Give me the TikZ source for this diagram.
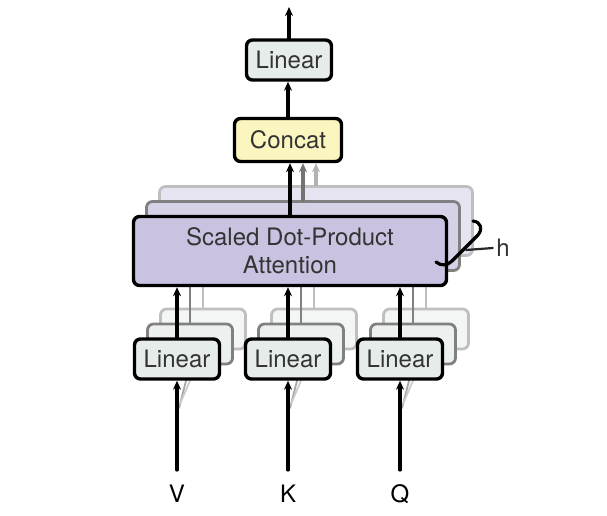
\documentclass[tikz,border=0pt]{standalone}
\usepackage{fontspec}
\setmainfont{TeX Gyre Heros}
\usetikzlibrary{positioning,arrows.meta}
\definecolor{linfill}{HTML}{E6ECEA}
\definecolor{catfill}{HTML}{FBF6C0}
\definecolor{attfill}{HTML}{C9C2E0}
\begin{document}
\begin{tikzpicture}[x=1pt,y=-1pt,line join=round,line cap=round,>={Stealth[length=9pt,width=8pt]},
  font=\fontsize{24}{28}\selectfont,
  box/.style={draw,line width=3.4pt,rounded corners=6pt,inner sep=0pt,text=black!80},
  linbox/.style={box,fill=linfill,minimum width=85pt,minimum height=40pt},
  catbox/.style={box,fill=catfill,minimum width=107pt,minimum height=43pt},
  attbox/.style={box,fill=attfill,minimum width=313pt,minimum height=69pt,align=center},
  back/.style={draw=black!50,fill=#1!75,line width=2.8pt},
  far/.style={draw=black!25,fill=#1!45,line width=2.8pt},
  flow/.style={->,line width=3.2pt},
  faint/.style={line width=2.6pt,#1}]
  \useasboundingbox (0,0) rectangle (607,516);
  % output side
  \node[linbox] (out) at (289,60) {Linear};
  \node[catbox] (cat) at (288,140) {Concat};
  \coordinate (top) at (289,7);
  \draw[flow] (out.north) -- (top);
  \draw[flow] (cat.north) -- (cat.north |- out.south);
  % attention heads
  \node[attbox,far=attfill] (att3) at (316,221) {};
  \node[attbox,back=attfill] (att2) at (303,236) {};
  \draw[flow,black!30] (att3.north) -- (att3.north |- cat.south);
  \draw[flow,black!55] (att2.north) -- (att2.north |- cat.south);
  \coordinate (attbot) at (290,286);
  % projections of V, K, Q
  \foreach \name/\x in {V/177,K/288,Q/400}{
    \node[linbox,far=linfill] (lin\name3) at (\x+26,329) {};
    \node[linbox,back=linfill] (lin\name2) at (\x+13,344) {};
    \draw[faint=black!25] (lin\name3.north) -- (lin\name3.north |- attbot);
    \draw[faint=black!50] (lin\name2.north) -- (lin\name2.north |- attbot);
    \draw[black!35,line width=1.8pt] (\x+2,408) -- (lin\name2.south);
    \draw[black!20,line width=1.8pt] (\x+3,404) -- (lin\name3.south);
    \node[linbox] (lin\name) at (\x,359) {Linear};
    \coordinate (in\name) at (\x,470);
    \node (lab\name) at (\x,494) {\name};
    \draw[flow] (in\name) -- (lin\name.south);
  }
  \node[attbox] (att) at (290,251) {Scaled Dot-Product\\Attention};
  \foreach \name in {V,K,Q}
    \draw[flow] (lin\name.north) -- (lin\name.north |- att.south);
  \draw[flow] (att.north) -- (att.north |- cat.south);
  % h brace
  \draw[line width=3.2pt] (473,221) .. controls (481,222) and (483,229) .. (478,235)
    -- (452,261) .. controls (447,266) and (441,266) .. (436,262);
  \coordinate (hb) at (466,250);
  \node[text=black!80] (h) at (503,248) {h};
  \draw[line width=2.2pt,black!85] (hb) -- (h.west);
\end{tikzpicture}
\end{document}
